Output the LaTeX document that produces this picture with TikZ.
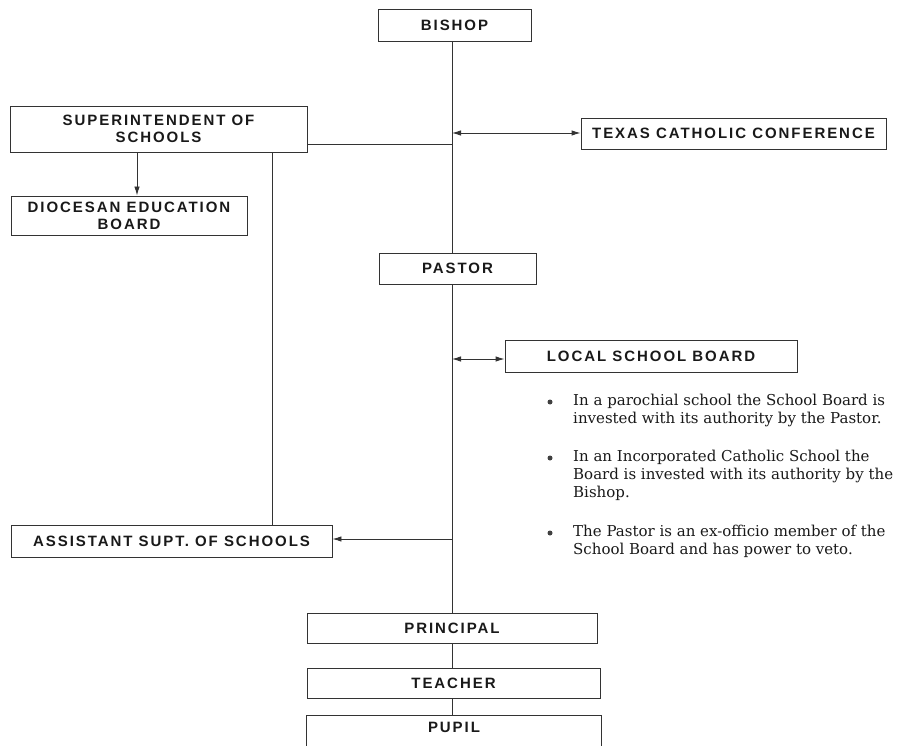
\documentclass[tikz,border=0pt]{standalone}
\usepackage{fontspec}
\usetikzlibrary{arrows.meta,calc}
\newfontfamily\labfont{Liberation Sans}[LetterSpace=13]
\newfontfamily\notefont{DejaVu Serif}
\tikzset{
  box/.style={draw=black!80, line width=0.9pt, rectangle, inner sep=0pt, align=center,
    text=black!90, font=\labfont\bfseries\fontsize{15}{17}\selectfont},
  conn/.style={draw=black!80, line width=0.9pt},
  arr/.style={conn, -{Latex[length=9pt,width=5.5pt]}},
  darr/.style={conn, {Latex[length=9pt,width=5.5pt]}-{Latex[length=9pt,width=5.5pt]}},
  note/.style={anchor=north west, align=left, inner sep=0pt, text=black!90,
    font=\notefont\fontsize{15}{18}\selectfont},
  dot/.style={circle, fill=black!75, inner sep=0pt, minimum size=5pt}
}
\begin{document}
\begin{tikzpicture}[x=1pt,y=-1pt]
\useasboundingbox (0,0) rectangle (899,746);
% boxes
\node[box, minimum width=153pt, minimum height=32pt] (bishop) at (454.5,25) {BISHOP};
\node[box, minimum width=297pt, minimum height=46pt] (supt) at (158.5,129) {SUPERINTENDENT OF\\SCHOOLS};
\node[box, minimum width=305pt, minimum height=31pt] (tcc) at (733.5,133.5) {TEXAS CATHOLIC CONFERENCE};
\node[box, minimum width=236pt, minimum height=39pt] (dioc) at (129,215.5) {DIOCESAN EDUCATION\\BOARD};
\node[box, minimum width=157pt, minimum height=31pt] (pastor) at (457.5,268.5) {PASTOR};
\node[box, minimum width=292pt, minimum height=32pt] (lsb) at (651,356) {LOCAL SCHOOL BOARD};
\node[box, minimum width=321pt, minimum height=32pt] (asst) at (171.5,541) {ASSISTANT SUPT. OF SCHOOLS};
\node[box, minimum width=290pt, minimum height=30pt] (principal) at (452,628) {PRINCIPAL};
\node[box, minimum width=293pt, minimum height=30pt] (teacher) at (453.5,683) {TEACHER};
\node[box, draw=none, minimum width=294pt, minimum height=22pt] (pupil) at (454,727) {PUPIL};
\draw[conn] ($(pupil.north west)+(0,30)$) -- (pupil.north west) -- (pupil.north east) -- ++(0,30);
% helper coordinates
\coordinate (m) at (452,0);
\coordinate (v) at (272,0);
\coordinate (d) at (137,0);
\coordinate (j1) at (452,133);
\coordinate (j2) at (452,144);
\coordinate (j3) at (452,359);
\coordinate (j4) at (452,539);
% main trunk
\draw[conn] (bishop.south -| m) -- (pastor.north -| m);
\draw[conn] (pastor.south -| m) -- (principal.north -| m);
\draw[conn] (principal.south -| m) -- (teacher.north -| m);
\draw[conn] (teacher.south -| m) -- (pupil.north -| m);
% side connections
\draw[darr] (j1) -- (tcc.west |- j1);
\draw[conn] (supt.east |- j2) -- (j2);
\draw[arr] (supt.south -| d) -- (dioc.north -| d);
\draw[conn] (supt.south -| v) -- (asst.north -| v);
\draw[darr] (j3) -- (lsb.west |- j3);
\draw[arr] (j4) -- (asst.east |- j4);
% notes
\node[dot] (b1) at (550,402) {};
\node[note] (n1) at (573,394) {In a parochial school the School Board is\\invested with its authority by the Pastor.};
\node[dot] (b2) at (550,458) {};
\node[note] (n2) at (573,450) {In an Incorporated Catholic School the\\Board is invested with its authority by the\\Bishop.};
\node[dot] (b3) at (550,533) {};
\node[note] (n3) at (573,525) {The Pastor is an ex-officio member of the\\School Board and has power to veto.};
\end{tikzpicture}
\end{document}
